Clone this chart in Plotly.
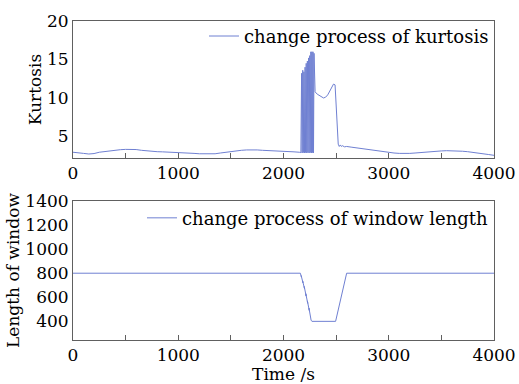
import plotly.graph_objects as go

# Kurtosis of the signal over time
kurt_t = [0, 50, 100, 150, 200, 250, 300, 350, 400, 450, 500, 550, 600, 650, 700, 750,
          800, 850, 900, 950, 1000, 1050, 1100, 1150, 1200, 1250, 1300, 1350, 1400, 1450,
          1500, 1550, 1600, 1650, 1700, 1750, 1800, 1850, 1900, 1950, 2000, 2050, 2100,
          2150, 2165, 2172, 2177, 2183, 2188, 2194, 2199, 2205, 2210, 2216, 2221, 2227,
          2232, 2238, 2243, 2249, 2254, 2260, 2265, 2270, 2275, 2280, 2285, 2290, 2296,
          2300, 2320, 2340, 2360, 2380, 2400, 2420, 2440, 2460, 2475, 2490, 2500, 2510,
          2520, 2530, 2540, 2550, 2560, 2580, 2600, 2650, 2700, 2750, 2800, 2850, 2900,
          2950, 3000, 3050, 3100, 3150, 3200, 3250, 3300, 3350, 3400, 3450, 3500, 3550,
          3600, 3650, 3700, 3750, 3800, 3850, 3900, 3950, 4000]
kurt_v = [2.95, 2.92, 2.80, 2.72, 2.78, 2.95, 3.05, 3.12, 3.20, 3.28, 3.32, 3.35, 3.30, 3.20,
          3.12, 3.05, 3.02, 3.00, 2.98, 2.95, 2.92, 2.88, 2.85, 2.80, 2.75, 2.72, 2.72, 2.75,
          2.85, 2.95, 3.05, 3.12, 3.20, 3.25, 3.28, 3.25, 3.20, 3.18, 3.15, 3.10, 3.05, 3.02,
          3.00, 2.95, 2.90, 13.2, 2.85, 13.6, 2.90, 13.4, 2.85, 14.0, 2.90, 14.5, 2.85, 14.8,
          2.90, 15.2, 2.85, 15.5, 2.90, 16.0, 2.85, 16.0, 2.90, 16.0, 2.85, 15.8, 11.5,
          10.8, 10.5, 10.3, 10.1, 10.0, 10.1, 10.4, 10.9, 11.4, 11.8, 11.7, 9.0, 6.0,
          4.0, 3.7, 3.9, 3.7, 3.8, 3.65, 3.7, 3.6, 3.5, 3.45, 3.35, 3.25, 3.15,
          3.05, 2.95, 2.85, 2.80, 2.78, 2.80, 2.85, 2.92, 3.00, 3.05, 3.10, 3.12, 3.15,
          3.15, 3.12, 3.08, 3.02, 2.95, 2.85, 2.75, 2.65, 2.55]

# Adaptive window length over time
win_t = [0, 2160, 2170, 2168, 2185, 2182, 2200, 2197, 2215, 2212, 2230, 2227, 2245, 2242,
         2262, 2270, 2495, 2600, 4000]
win_v = [800, 800, 770, 780, 720, 735, 670, 690, 610, 630, 550, 570, 490, 510,
         410, 400, 400, 800, 800]

x_ticks = [0, 1000, 2000, 3000, 4000]
kurt_ticks = [5, 10, 15, 20]
win_ticks = [400, 600, 800, 1000, 1200, 1400]

line_color = "#6f80d2"
tick_font = dict(family="DejaVu Serif", size=17, color="black")
title_font = dict(family="DejaVu Serif", size=17, color="black")
legend_font = dict(family="DejaVu Serif", size=18, color="black")
axis_color = "#606060"

fig = go.Figure()
fig.add_trace(go.Scatter(x=kurt_t, y=kurt_v, mode="lines", name="change process of kurtosis",
                         line=dict(color=line_color, width=1), xaxis="x", yaxis="y",
                         legend="legend"))
fig.add_trace(go.Scatter(x=win_t, y=win_v, mode="lines", name="change process of window length",
                         line=dict(color=line_color, width=1), xaxis="x2", yaxis="y2",
                         legend="legend2"))

xaxis_common = dict(range=[0, 4000], tickvals=x_ticks, ticks="inside", ticklen=5,
                    tickcolor=axis_color, showline=True, linecolor=axis_color, linewidth=1,
                    mirror=True, showgrid=False, zeroline=False, tickfont=tick_font,
                    minor=dict(dtick=500, ticks="inside", ticklen=5, tickcolor=axis_color),
                    automargin=False)
yaxis_common = dict(ticks="", showline=True, linecolor=axis_color, linewidth=1, mirror=True,
                    showgrid=False, zeroline=False, tickfont=tick_font, automargin=False)

fig.update_layout(
    width=519, height=384,
    margin=dict(l=73, r=25, t=21, b=44),
    paper_bgcolor="white", plot_bgcolor="white",
    font=tick_font,
    xaxis=dict(domain=[0, 1], anchor="y", **xaxis_common),
    yaxis=dict(domain=[0.5705, 1], anchor="x", range=[2.2, 20], tickvals=kurt_ticks,
               title=dict(text="Kurtosis", font=title_font, standoff=1), **yaxis_common),
    xaxis2=dict(domain=[0, 1], anchor="y2",
                title=dict(text="Time /s", font=title_font, standoff=2), **xaxis_common),
    yaxis2=dict(domain=[0, 0.4357], anchor="x2", range=[245, 1400], tickvals=win_ticks,
                title=dict(text="Length of window", font=title_font, standoff=1), **yaxis_common),
    legend=dict(x=1, y=1.01, xanchor="right", yanchor="top", bgcolor="rgba(0,0,0,0)",
                borderwidth=0, font=legend_font, tracegroupgap=0),
    legend2=dict(x=1, y=0.44, xanchor="right", yanchor="top", bgcolor="rgba(0,0,0,0)",
                 borderwidth=0, font=legend_font, tracegroupgap=0),
    showlegend=True,
)

fig.write_html("out.html")
